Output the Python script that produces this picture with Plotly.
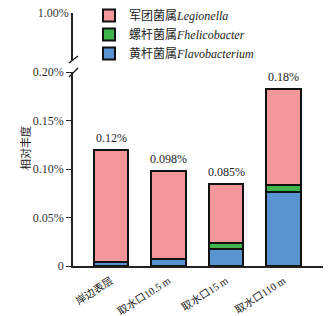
import plotly.graph_objects as go

categories = ["岸边表层", "取水口10.5 m", "取水口15 m", "取水口110 m"]
flavobacterium = [0.004, 0.007, 0.0175, 0.076]
helicobacter = [0.0, 0.0, 0.006, 0.007]
legionella = [0.116, 0.091, 0.0615, 0.0995]
total_labels = ["0.12%", "0.098%", "0.085%", "0.18%"]
lower_ticks = [0, 0.05, 0.10, 0.15, 0.20]
lower_ticktext = ["0", "0.05%", "0.10%", "0.15%", "0.20%"]

W, H = 334, 316
ml, mr, mt, mb = 73, 11, 13, 50
pw, ph = W - ml - mr, H - mt - mb

def px(x):
    return (x - ml) / pw

def py(y):
    return (H - mb - y) / ph

FONT = "Liberation Serif, Times New Roman, Noto Sans CJK SC"
line = dict(color="#111111", width=2)

fig = go.Figure()
fig.add_bar(x=categories, y=flavobacterium, name="黄杆菌属<i>Flavobacterium</i>",
            marker=dict(color="#5A93D1", line=line), width=0.6)
fig.add_bar(x=categories, y=helicobacter, name="螺杆菌属<i>Fhelicobacter</i>",
            marker=dict(color="#3DB54A", line=line), width=0.6)
fig.add_bar(x=categories, y=legionella, name="军团菌属<i>Legionella</i>",
            marker=dict(color="#F4979B", line=line), width=0.6)

totals = [a + b + c for a, b, c in zip(flavobacterium, helicobacter, legionella)]
for c, t, lab in zip(categories, totals, total_labels):
    fig.add_annotation(x=c, y=t, text=lab, showarrow=False, yanchor="bottom", yshift=3,
                       font=dict(family=FONT, size=12, color="#222"))

# invisible trace on upper axis
fig.add_scatter(x=[categories[0]], y=[1.0], yaxis="y2", mode="markers",
                marker=dict(opacity=0), showlegend=False, hoverinfo="skip")

fig.update_layout(
    width=W, height=H,
    margin=dict(l=ml, r=mr, t=mt, b=mb, autoexpand=False),
    barmode="stack",
    plot_bgcolor="white", paper_bgcolor="white",
    font=dict(family=FONT, size=12, color="#222"),
    showlegend=True,
    legend=dict(x=px(89), y=py(1), xanchor="left", yanchor="top",
                traceorder="reversed", bgcolor="rgba(0,0,0,0)",
                font=dict(family=FONT, size=12, color="#222"),
                itemwidth=30, tracegroupgap=0),
    xaxis=dict(range=[-0.661, 3.687], showline=True, linecolor="#222", linewidth=1.5,
               ticks="", tickangle=-33, tickfont=dict(family=FONT, size=10.5, color="#222"),
               ticklabelstandoff=3,
               showgrid=False, zeroline=False, automargin=False),
    yaxis=dict(domain=[0, py(72)], range=[0, 0.2], tickvals=lower_ticks, ticktext=lower_ticktext,
               showline=True, linecolor="#222", linewidth=1.5, ticks="outside", ticklen=5,
               tickcolor="#222", showgrid=False, zeroline=False, automargin=False,
               tickfont=dict(family=FONT, size=12, color="#333")),
    yaxis2=dict(domain=[py(60), 1], range=[0.9, 1.0], tickvals=[1.0], ticktext=["1.00%"],
                showline=True, linecolor="#222", linewidth=1.5, ticks="inside", ticklen=5,
                tickcolor="#222", showgrid=False, zeroline=False, anchor="x", automargin=False,
                tickfont=dict(family=FONT, size=12, color="#333")),
)

fig.add_annotation(x=px(25), y=py(148), xref="paper", yref="paper", text="相对丰度",
                   xanchor="center", yanchor="middle",
                   textangle=-90, showarrow=False, font=dict(family="Noto Sans CJK SC", size=11, color="#222"))

# axis break marks
for (x0, y0, x1, y1) in [(69, 63, 78, 56), (69, 77, 78, 68)]:
    fig.add_shape(type="line", xref="paper", yref="paper", x0=px(x0), y0=py(y0), x1=px(x1), y1=py(y1),
                  line=dict(color="#222", width=1.5))

fig.write_html("out.html", config={"displayModeBar": False},
               post_script="document.body.style.margin='0';document.body.style.overflow='hidden';")
